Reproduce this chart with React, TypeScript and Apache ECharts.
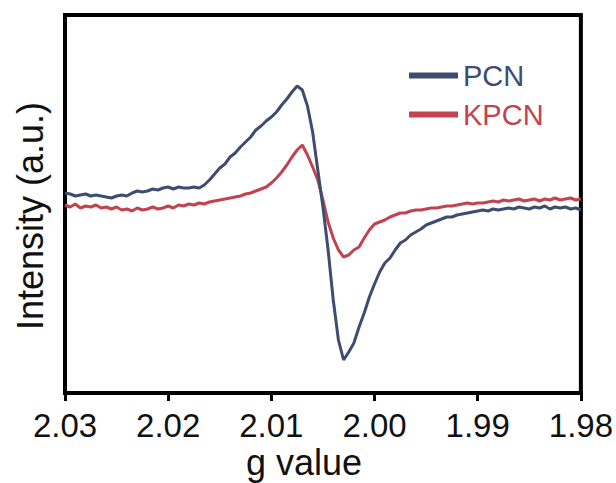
import React, { useEffect, useRef } from "react";
import * as echarts from "echarts";

// g values from 2.0300 down to 1.9800 in steps of 0.0005
const gStart = 2.03;
const gStep = 0.0005;
const pointCount = 101;
const gValues: number[] = Array.from({ length: pointCount }, (_, i) => +(gStart - i * gStep).toFixed(4));

const pcnIntensity: number[] = [
  7, 6, 4, 5, 6, 4, 5, 4, 3, 2,
  4, 5, 4, 7, 9, 8, 9, 11, 10, 12,
  13, 11, 13, 12, 12, 13, 12, 15, 20, 26,
  32, 36, 43, 47, 53, 58, 63, 70, 74, 79,
  83, 88, 95, 101, 108, 114, 110, 94, 68, 30,
  -7, -50, -100, -140, -160, -152, -143, -127, -113, -97,
  -84, -72, -63, -58, -50, -43, -40, -35, -32, -29,
  -25, -23, -21, -19, -17, -17, -15, -14, -13, -12,
  -11, -10, -11, -9, -10, -9, -8, -9, -7, -8,
  -9, -7, -8, -6, -9, -7, -8, -7, -9, -8,
  -10,
];

const kpcnIntensity: number[] = [
  -5, -7, -4, -8, -6, -7, -5, -8, -7, -9,
  -7, -10, -9, -11, -8, -10, -9, -7, -9, -8,
  -6, -8, -5, -6, -4, -5, -3, -4, -2, -1,
  0, 1, 2, 3, 4, 6, 7, 9, 11, 13,
  17, 22, 28, 35, 43, 50, 55, 45, 33, 20,
  0, -22, -38, -50, -57, -55, -50, -47, -38, -30,
  -24, -22, -20, -17, -15, -13, -13, -11, -10, -10,
  -9, -8, -8, -7, -6, -6, -5, -4, -3, -4,
  -3, -3, -2, -1, -2, 0, -1, 0, 1, -1,
  0, 1, -1, 1, 0, 2, 0, 1, 2, 0,
  1,
];

const seriesNames = ["PCN", "KPCN"];
const seriesColors = ["#3d4c70", "#c0434f"];
const xTickLabels = ["1.98", "1.99", "2.00", "2.01", "2.02", "2.03"];

const FONT = "'Liberation Sans', Arial, sans-serif";

export default function App() {
  const ref = useRef<HTMLDivElement>(null);

  useEffect(() => {
    document.body.style.margin = "0";
    if (!ref.current) return;
    const chart = echarts.init(ref.current, undefined, { renderer: "svg" });
    const seriesData = [pcnIntensity, kpcnIntensity].map((vals) =>
      gValues.map((g, i) => [g, vals[i]])
    );
    chart.setOption({
      animation: false,
      backgroundColor: "#ffffff",
      grid: {
        left: 65,
        right: 35,
        top: 15,
        bottom: 90,
        show: true,
        borderColor: "#000000",
        borderWidth: 4,
        backgroundColor: "transparent",
      },
      legend: {
        orient: "vertical",
        left: 404,
        top: 56,
        itemWidth: 49,
        itemHeight: 6,
        itemGap: 10,
        icon: "rect",
        textStyle: { fontFamily: FONT, fontSize: 29 },
        data: seriesNames.map((n, i) => ({
          name: n,
          textStyle: { color: seriesColors[i] },
        })),
      },
      xAxis: {
        type: "value",
        inverse: true,
        min: 1.98,
        max: 2.03,
        interval: 0.01,
        axisLine: { show: true, onZero: false, lineStyle: { color: "#000", width: 4 } },
        axisTick: { show: true, inside: false, length: 8, lineStyle: { color: "#000", width: 3 } },
        splitLine: { show: false },
        axisLabel: {
          margin: 16,
          fontFamily: FONT,
          fontSize: 33,
          color: "#111111",
          formatter: (v: number) => {
            const s = v.toFixed(2);
            return xTickLabels.includes(s) ? s : "";
          },
        },
      },
      yAxis: {
        type: "value",
        min: -193,
        max: 185,
        axisLine: { show: false },
        axisTick: { show: false },
        axisLabel: { show: false },
        splitLine: { show: false },
      },
      graphic: [
        {
          type: "text",
          x: 304,
          y: 462,
          style: {
            text: "g value",
            font: `36px ${FONT}`,
            fill: "#111111",
            textAlign: "center",
            textVerticalAlign: "middle",
          },
        },
        {
          type: "text",
          x: 30,
          y: 216,
          rotation: Math.PI / 2,
          style: {
            text: "Intensity (a.u.)",
            font: `36px ${FONT}`,
            fill: "#111111",
            textAlign: "center",
            textVerticalAlign: "middle",
          },
        },
      ],
      series: seriesNames.map((n, i) => ({
        name: n,
        type: "line",
        data: seriesData[i],
        showSymbol: false,
        symbol: "none",
        lineStyle: { color: seriesColors[i], width: 3 },
        itemStyle: { color: seriesColors[i] },
        z: i === 0 ? 3 : 2,
      })),
    });
    return () => chart.dispose();
  }, []);

  return <div ref={ref} style={{ width: 616, height: 483 }} />;
}
